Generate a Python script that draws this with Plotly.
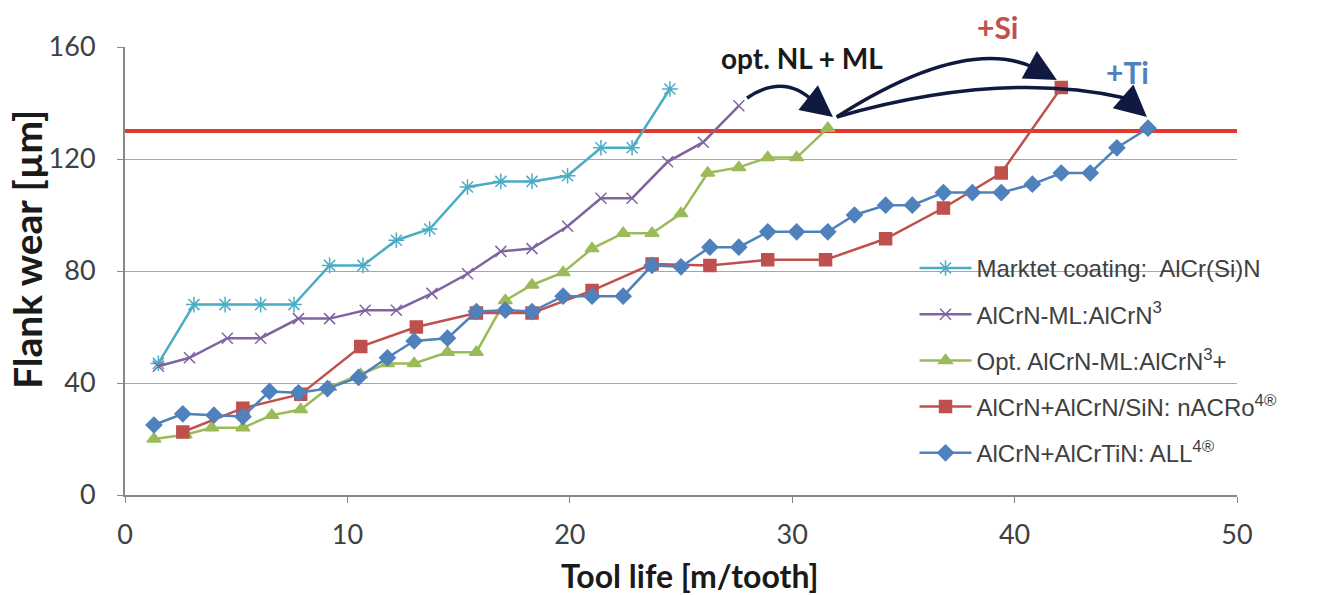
import plotly.graph_objects as go

# ---------------- data ----------------
market_x = [1.5, 3.1, 4.5, 6.1, 7.6, 9.2, 10.7, 12.2, 13.7, 15.4, 16.9, 18.3, 19.9, 21.4, 22.8, 24.5]
market_y = [47, 68, 68, 68, 68, 82, 82, 91, 95, 110, 112, 112, 114, 124, 124, 145]

ml_x = [1.5, 2.9, 4.6, 6.1, 7.8, 9.2, 10.8, 12.2, 13.8, 15.4, 16.9, 18.3, 19.9, 21.4, 22.8, 24.4, 26.0, 27.6]
ml_y = [46, 49, 56, 56, 63, 63, 66, 66, 72, 79, 87, 88, 96, 106, 106, 119, 126, 139]

opt_x = [1.3, 2.7, 3.9, 5.3, 6.6, 7.9, 9.2, 10.6, 11.8, 13.0, 14.5, 15.8, 17.1, 18.3, 19.7, 21.0, 22.4, 23.7, 25.0, 26.2, 27.6, 28.9, 30.2, 31.6]
opt_y = [20, 21.5, 24, 24, 28.5, 30.5, 38.5, 43, 47, 47, 51, 51, 69.5, 75, 79.5, 88, 93.5, 93.5, 100.5, 115, 117, 120.5, 120.5, 131]

si_x = [2.6, 5.3, 7.9, 10.6, 13.1, 15.8, 18.3, 21.0, 23.7, 26.3, 28.9, 31.5, 34.2, 36.8, 39.4, 42.1]
si_y = [22.5, 31, 36, 53, 60, 65, 65, 73, 82.5, 82, 84, 84, 91.5, 102.5, 115, 145.5]

ti_x = [1.3, 2.6, 4.0, 5.3, 6.5, 7.8, 9.1, 10.5, 11.8, 13.0, 14.5, 15.8, 17.1, 18.3, 19.7, 21.0, 22.4, 23.7, 25.0,
        26.3, 27.6, 28.9, 30.2, 31.6, 32.8, 34.2, 35.4, 36.8, 38.1, 39.4, 40.8, 42.1, 43.4, 44.6, 46.0]
ti_y = [25, 29, 28.5, 28, 37, 36.5, 38, 42, 49, 55, 56, 65.5, 66, 65.5, 71, 71, 71, 82, 81.5,
        88.5, 88.5, 94, 94, 94, 100, 103.5, 103.5, 108, 108, 108, 111, 115, 115, 124, 131]

limit_y = 130
x_ticks = [0, 10, 20, 30, 40, 50]
y_ticks = [0, 40, 80, 120, 160]

names = [
    "Marktet coating:  AlCr(Si)N",
    "AlCrN-ML:AlCrN<sup>3</sup>",
    "Opt. AlCrN-ML:AlCrN<sup>3</sup>+",
    "AlCrN+AlCrN/SiN: nACRo<sup>4®</sup>",
    "AlCrN+AlCrTiN: ALL<sup>4®</sup>",
]

# ---------------- figure ----------------
fig = go.Figure()

series = [
    (market_x, market_y, "#4bacc6", "asterisk-open", 13),
    (ml_x, ml_y, "#8064a2", "x-thin-open", 11),
    (opt_x, opt_y, "#9bbb59", "triangle-up", 12),
    (si_x, si_y, "#c0504d", "square", 12),
    (ti_x, ti_y, "#4f81bd", "diamond", 12),
]

# red limit line
fig.add_shape(type="line", xref="paper", yref="y", x0=0, x1=1, y0=limit_y, y1=limit_y,
              line=dict(color="#e2392c", width=4), layer="below")
# white panel behind the legend hiding the gridlines there
fig.add_shape(type="rect", xref="paper", yref="paper", x0=0.697, x1=1.0, y0=0.05, y1=0.57,
              fillcolor="white", line=dict(width=0), layer="between")

for i, (xs, ys, col, sym, sz) in enumerate(series):
    fig.add_trace(go.Scatter(
        x=xs, y=ys, mode="lines+markers", name=names[i], legendgroup=f"g{i}",
        line=dict(color=col, width=2.5),
        marker=dict(symbol=sym, size=sz, color=col, line=dict(color=col, width=1.5)),
    ))

arrow_col = "#101a40"
paths = [
    "M 27.97,141.8 Q 29.68,151 31.03,140",
    "M 32.0,135 Q 37.77,164.3 40.92,152.5",
    "M 32.0,135 Q 39.34,151.8 44.96,141.8",
]
for p in paths:
    fig.add_shape(type="path", path=p, xref="x", yref="y",
                  line=dict(color=arrow_col, width=3.5))

heads = [
    (31.83, 135.0, 31.03, 140.0),
    (41.9, 148.2, 40.92, 152.5),
    (45.95, 135.0, 44.96, 141.8),
]
for (xt, yt, xs_, ys_) in heads:
    fig.add_annotation(x=xt, y=yt, ax=xs_, ay=ys_, xref="x", yref="y", axref="x", ayref="y",
                       text="", showarrow=True, arrowhead=2, arrowsize=1.8, arrowwidth=3.5,
                       arrowcolor=arrow_col)


def px_x(p):
    return (p - 125) / 1112


def px_y(p):
    return (495 - p) / 448


txt = [
    ("<b>opt. NL + ML</b>", 802, 58, 28, "#1a1a1a", 0),
    ("<b>+Si</b>", 997, 27, 30, "#c0504d", 0),
    ("<b>+Ti</b>", 1127, 72, 30, "#4f81bd", 0),
    ("<b>Flank wear [µm]</b>", 27, 250, 39, "#1a1a1a", -90),
    ("<b>Tool life [m/tooth]</b>", 690, 575, 32, "#1a1a1a", 0),
]
for t, xp, yp, sz, col, ang in txt:
    fig.add_annotation(x=px_x(xp), y=px_y(yp), xref="paper", yref="paper", text=t, showarrow=False,
                       xanchor="center", yanchor="middle", textangle=ang,
                       font=dict(family="Lato", size=sz, color=col))

fig.update_layout(
    width=1320, height=595,
    margin=dict(l=125, r=83, t=47, b=100),
    paper_bgcolor="white", plot_bgcolor="white",
    font=dict(family="Lato", size=27, color="#404040"),
    showlegend=True,
    legend=dict(
        x=0.71, y=0.556, xanchor="left", yanchor="top",
        bgcolor="rgba(255,255,255,0)", borderwidth=0,
        font=dict(family="Liberation Sans", size=24, color="#404040"),
        traceorder="grouped", tracegroupgap=12, itemwidth=52,
    ),
    xaxis=dict(
        range=[0, 50], tickvals=x_ticks, showgrid=False, zeroline=False,
        showline=True, linecolor="#888888", linewidth=2,
        ticks="outside", ticklen=6, tickcolor="#888888", ticklabelstandoff=9,
    ),
    yaxis=dict(
        range=[0, 160], tickvals=y_ticks, showgrid=True, gridcolor="#a6a6a6", gridwidth=1,
        zeroline=False, showline=True, linecolor="#888888", linewidth=2,
        ticks="outside", ticklen=6, tickcolor="#888888", ticklabelstandoff=16,
    ),
)

fig.write_html("out.html")
